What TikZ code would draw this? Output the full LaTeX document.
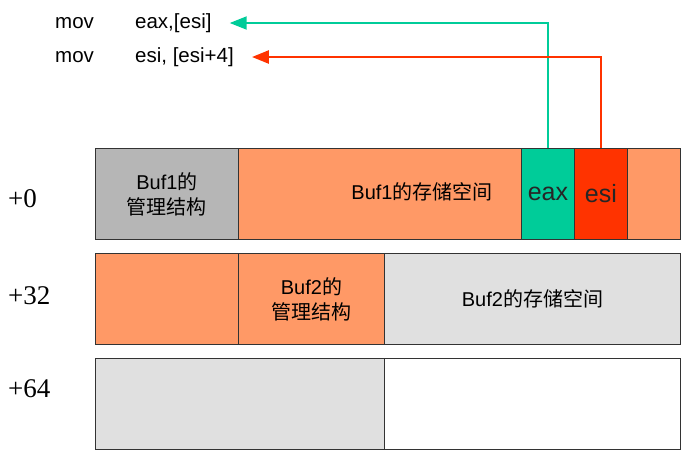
\documentclass[tikz,border=0pt]{standalone}
\usepackage{fontspec}
\setmainfont{Liberation Serif}
\newfontfamily\sansf{Liberation Sans}
\newfontfamily\cjkf{Noto Sans CJK SC}
\usetikzlibrary{arrows.meta}
\definecolor{cgray}{HTML}{B6B6B6}
\definecolor{corange}{HTML}{FF9966}
\definecolor{cgreen}{HTML}{00CC99}
\definecolor{cred}{HTML}{FF3300}
\definecolor{clight}{HTML}{E0E0E0}
\newcommand{\zh}[1]{{\cjkf #1}}
\begin{document}
\begin{tikzpicture}[x=1pt,y=-1pt,
  cell/.style={draw=black!80,line width=0.9pt,anchor=north west,inner sep=0pt,
    minimum height=91pt,align=center,font=\sansf\fontsize{20}{25}\selectfont},
  offs/.style={anchor=west,inner sep=0pt,font=\fontsize{27}{30}\selectfont},
  code/.style={anchor=west,inner sep=0pt,font=\sansf\fontsize{20.5}{24}\selectfont},
  regtxt/.style={font=\sansf\fontsize{25}{28}\selectfont,text=black!85},
  arr/.style={-{Triangle[length=17pt,width=13pt]}}]
\useasboundingbox (0,0) rectangle (690,459);
% code lines
\node[code] (m1) at (55,23) {mov};
\node[code] (c1) at (135,23) {eax,[esi]};
\node[code] (m2) at (55,57) {mov};
\node[code] (c2) at (135,57) {esi, [esi+4]};
% row 0
\node[cell,fill=cgray,minimum width=143pt] (r0a) at (95,148) {Buf1\zh{的}\\\zh{管理结构}};
\node[cell,fill=corange,minimum width=283pt] (r0b) at (238,148) {};
\node[font=\sansf\fontsize{20}{22}\selectfont] (r0bt) at (422,192) {Buf1\zh{的存储空间}};
\node[cell,fill=cgreen,minimum width=53pt,regtxt] (eax) at (521,148) {eax};
\node[cell,fill=cred,minimum width=53pt,regtxt] (esi) at (574,148) {esi};
\node[cell,fill=corange,minimum width=53pt] (r0e) at (627,148) {};
% row 1
\node[cell,fill=corange,minimum width=143pt] (r1a) at (95,253) {};
\node[cell,fill=corange,minimum width=146pt] (r1b) at (238,253) {Buf2\zh{的}\\\zh{管理结构}};
\node[cell,fill=clight,minimum width=296pt] (r1c) at (384,253) {Buf2\zh{的存储空间}};
% row 2
\node[cell,fill=clight,minimum width=289pt] (r2a) at (95,358) {};
\node[cell,fill=white,minimum width=296pt] (r2b) at (384,358) {};
% offsets
\node[offs] (o0) at (8,199) {+0};
\node[offs] (o1) at (8,296) {+32};
\node[offs] (o2) at (8,389) {+64};
% arrows
\draw[arr,cgreen,line width=2pt] (eax.north) |- ([xshift=18pt]c1.east);
\draw[arr,cred,line width=2.6pt] (esi.north) |- ([xshift=18pt]c2.east);
\end{tikzpicture}
\end{document}
